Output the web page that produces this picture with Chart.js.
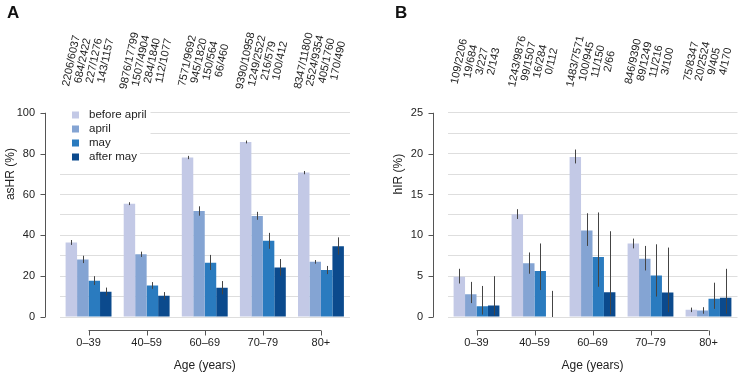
<!DOCTYPE html>
<html>
<head>
<meta charset="utf-8">
<script src="https://cdn.jsdelivr.net/npm/chart.js@4.4.1/dist/chart.umd.min.js"></script>
<style>
  body { margin: 0; background: #fff; }
  #wrap { position: relative; width: 739px; height: 374px; }
  canvas { position: absolute; top: 0; }
  #cA { left: 0; }
  #cB { left: 388px; }
  .panel { position: absolute; top: 3px; font: bold 17px "Liberation Sans", Arial, sans-serif; color: #111; }
</style>
</head>
<body>
<div id="wrap">
  <canvas id="cA" width="388" height="374"></canvas>
  <canvas id="cB" width="351" height="374"></canvas>
  <div class="panel" style="left:7px">A</div>
  <div class="panel" style="left:395px">B</div>
</div>
<script>
// categories and series
const ageGroups = ['0–39', '40–59', '60–69', '70–79', '80+'];
const periods = ['before april', 'april', 'may', 'after may'];
const periodColors = ['#c3c9e6', '#84a4d3', '#2a7bbf', '#0b4a8d'];

// panel A: asHR (%)
const asHRBeforeApril = [36.5, 55.5, 78.1, 85.7, 70.7];
const asHRApril       = [28.2, 30.7, 51.9, 49.5, 27.0];
const asHRMay         = [17.8, 15.4, 26.6, 37.3, 23.0];
const asHRAfterMay    = [12.4, 10.4, 14.3, 24.3, 34.7];
// error bars (low / high)
const asHRLow  = [[35.3, 54.8, 77.3, 85.0, 69.9], [26.4, 29.4, 49.6, 47.6, 26.1], [15.7, 13.8, 23.0, 33.4, 21.0], [10.5, 8.6, 11.1, 20.2, 30.5]];
const asHRHigh = [[37.7, 56.2, 78.9, 86.4, 71.5], [30.0, 32.0, 54.2, 51.5, 27.9], [20.0, 17.1, 30.4, 41.2, 25.0], [14.4, 12.2, 17.6, 28.4, 39.0]];
const asHRCounts = [
  ['2206/6037', '9876/17799', '7571/9692', '9390/10958', '8347/11800'],
  ['684/2422', '1507/4904', '945/1820', '1249/2522', '2524/9354'],
  ['227/1276', '284/1840', '150/564', '216/579', '405/1760'],
  ['143/1157', '112/1077', '66/460', '100/412', '170/490']
];

// panel B: hIR (%)
const hIRBeforeApril = [4.94, 12.59, 19.59, 9.01, 0.90];
const hIRApril       = [2.78, 6.57, 10.58, 7.13, 0.79];
const hIRMay         = [1.32, 5.63, 7.33, 5.09, 2.22];
const hIRAfterMay    = [1.40, 0, 3.03, 3.00, 2.35];
const hIRLow  = [[4.1, 12.0, 18.8, 8.4, 0.6], [1.7, 5.3, 8.7, 5.7, 0.4], [0.3, 3.3, 3.7, 2.5, 1.0], [0.2, 0, 0.3, 0.6, 0.4]];
const hIRHigh = [[5.9, 13.2, 20.5, 9.6, 1.15], [4.3, 7.9, 12.7, 8.7, 1.2], [3.8, 9.0, 12.8, 8.9, 4.2], [5.0, 3.2, 10.5, 8.5, 5.9]];
const hIRCounts = [
  ['109/2206', '1243/9876', '1483/7571', '846/9390', '75/8347'],
  ['19/684', '99/1507', '100/945', '89/1249', '20/2524'],
  ['3/227', '16/284', '11/150', '11/216', '9/405'],
  ['2/143', '0/112', '2/66', '3/100', '4/170']
];

Chart.defaults.font.family = '"Liberation Sans", Arial, Helvetica, sans-serif';
Chart.defaults.color = '#222';

// R-style axes, error bars, count labels and legend
const rDecor = {
  id: 'rDecor',
  afterDraw(chart, args, o) {
    const { ctx, chartArea } = chart;
    const xs = chart.scales.x, ys = chart.scales.y;
    ctx.save();

    // error bars
    ctx.strokeStyle = '#444';
    ctx.lineWidth = 1;
    chart.data.datasets.forEach((ds, i) => {
      chart.getDatasetMeta(i).data.forEach((bar, j) => {
        const px = Math.round(bar.x) + 0.5;
        ctx.beginPath();
        ctx.moveTo(px, ys.getPixelForValue(ds.errLow[j]));
        ctx.lineTo(px, ys.getPixelForValue(ds.errHigh[j]));
        ctx.stroke();
      });
    });

    // y axis line
    ctx.strokeStyle = '#555';
    const ax = Math.round(chartArea.left - 14.5) + 0.5;
    ctx.beginPath();
    ctx.moveTo(ax, ys.getPixelForValue(0));
    ctx.lineTo(ax, ys.getPixelForValue(o.axisMax));
    for (let v = 0; v <= o.axisMax + 1e-9; v += o.labelStep) {
      const py = Math.round(ys.getPixelForValue(v)) + 0.5;
      ctx.moveTo(ax, py);
      ctx.lineTo(ax - 5, py);
    }
    ctx.stroke();

    // x axis line
    const ay = Math.round(chartArea.bottom + 13) + 0.5;
    ctx.beginPath();
    ctx.moveTo(xs.getPixelForValue(0), ay);
    ctx.lineTo(xs.getPixelForValue(ageGroups.length - 1), ay);
    ageGroups.forEach((g, j) => {
      const px = Math.round(xs.getPixelForValue(j)) + 0.5;
      ctx.moveTo(px, ay);
      ctx.lineTo(px, ay + 5);
    });
    ctx.stroke();

    // rotated count labels above bars
    ctx.fillStyle = '#222';
    ctx.font = '11px "Liberation Sans", Arial, sans-serif';
    ctx.textAlign = 'center';
    ctx.textBaseline = 'middle';
    const ty = ys.getPixelForValue(o.annotY);
    chart.data.datasets.forEach((ds, i) => {
      chart.getDatasetMeta(i).data.forEach((bar, j) => {
        ctx.save();
        ctx.translate(bar.x, ty);
        ctx.rotate(-78 * Math.PI / 180);
        ctx.fillText(ds.counts[j], 0, 0);
        ctx.restore();
      });
    });

    // legend inside the plot
    if (o.legend) {
      ctx.fillStyle = '#fff';
      ctx.fillRect(chartArea.left, 107, 91, 44);
      ctx.font = '11.5px "Liberation Sans", Arial, sans-serif';
      ctx.fillRect(chartArea.left, 150, 89 - chartArea.left + ctx.measureText('after may').width + 3, 14);
      ctx.textAlign = 'left';
      chart.data.datasets.forEach((ds, i) => {
        const cy = 115 + i * 14;
        ctx.fillStyle = ds.backgroundColor;
        ctx.fillRect(72, cy - 3.5, 7, 7);
        ctx.fillStyle = '#222';
        ctx.fillText(ds.label, 89, cy);
      });
    }
    ctx.restore();
  }
};

function makeChart(id, p) {
  return new Chart(document.getElementById(id), {
    type: 'bar',
    data: {
      labels: ageGroups,
      datasets: p.series.map((vals, i) => ({
        label: periods[i],
        data: vals,
        backgroundColor: periodColors[i],
        errLow: p.low[i],
        errHigh: p.high[i],
        counts: p.counts[i],
        barPercentage: 1,
        categoryPercentage: 0.79,
        borderWidth: 0
      }))
    },
    options: {
      responsive: false,
      animation: false,
      events: [],
      layout: { padding: { top: 31, right: p.padRight, left: 0, bottom: 0 } },
      plugins: {
        legend: { display: false },
        tooltip: { enabled: false },
        rDecor: { axisMax: p.axisMax, labelStep: p.labelStep, annotY: p.annotY, legend: p.legend }
      },
      scales: {
        x: {
          grid: { display: false, drawTicks: false },
          border: { display: false },
          ticks: { font: { size: 11 }, padding: 19.5 },
          title: { display: true, text: 'Age (years)', font: { size: 12 }, padding: { top: 0, bottom: 1 } },
          afterFit(s) { s.height = 57; }
        },
        y: {
          min: 0,
          max: p.yMax,
          grid: {
            color: c => c.tick.value <= p.axisMax + 1e-9 ? '#dedede' : 'rgba(0,0,0,0)',
            drawTicks: false
          },
          border: { display: false },
          ticks: {
            stepSize: p.gridStep,
            padding: 24.5,
            autoSkip: false,
            font: { size: 11 },
            callback: v => {
              const k = v / p.labelStep;
              return (v <= p.axisMax + 1e-9 && Math.abs(k - Math.round(k)) < 1e-6) ? v : '';
            }
          },
          title: { display: true, text: p.yTitle, font: { size: 12 }, padding: { top: 3, bottom: 0 } },
          afterFit(s) { s.width = 59.5; }
        }
      }
    },
    plugins: [rDecor]
  });
}

makeChart('cA', {
  series: [asHRBeforeApril, asHRApril, asHRMay, asHRAfterMay],
  low: asHRLow, high: asHRHigh, counts: asHRCounts,
  yMax: 140, axisMax: 100, gridStep: 10, labelStep: 20, annotY: 125.5,
  yTitle: 'asHR (%)', padRight: 38, legend: true
});

makeChart('cB', {
  series: [hIRBeforeApril, hIRApril, hIRMay, hIRAfterMay],
  low: hIRLow, high: hIRHigh, counts: hIRCounts,
  yMax: 35, axisMax: 25, gridStep: 2.5, labelStep: 5, annotY: 31.3,
  yTitle: 'hIR (%)', padRight: 1.5, legend: false
});
</script>
</body>
</html>
